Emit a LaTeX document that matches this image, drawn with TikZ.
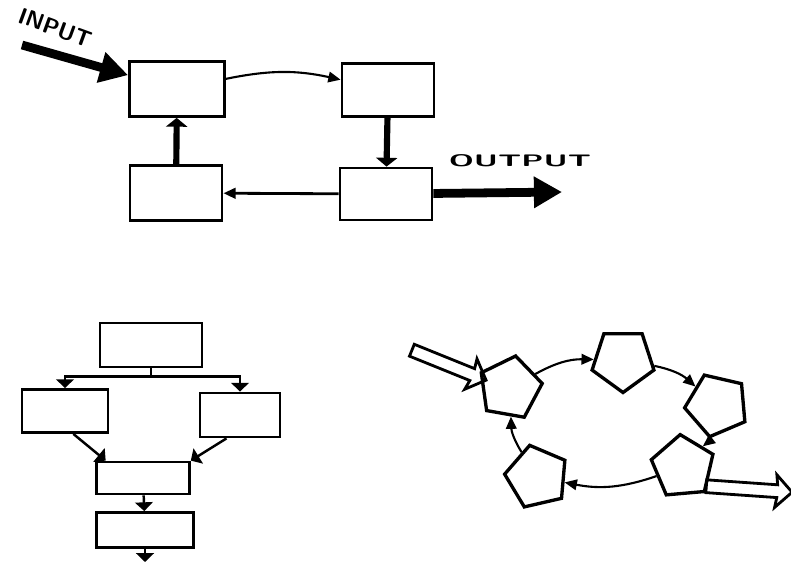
\documentclass[tikz,border=0pt]{standalone}
\usetikzlibrary{arrows.meta,shapes.geometric,shapes.arrows,positioning}
\begin{document}
\begin{tikzpicture}[x=0.02cm,y=-0.02cm]

    \tikzset{
      box/.style={draw, line width=1.6pt, inner sep=0pt},
      pent/.style={
        draw,
        line width=1.9pt,
        regular polygon,
        regular polygon sides=5,
        minimum size=1.3cm,
        inner sep=0pt,
      },
      thinlink/.style={line width=1.2pt, -{Triangle[length=7pt,width=6pt]}},
      fatlink/.style={line width=3.5pt, -{Triangle[length=5pt,width=12pt]}},
      flowlink/.style={line width=1.4pt, -{Triangle[length=5pt,width=10pt]}},
      bigarrow/.style={line width=5pt, -{Triangle[length=16pt,width=17pt]}},
      hollow/.style={
        draw,
        line width=1.6pt,
        single arrow,
        single arrow head extend=0.2cm,
        single arrow head indent=0.03cm,
        inner xsep=0pt,
        inner ysep=0.1cm,
      },
      tag/.style={font=\sffamily\bfseries},
    }
    \useasboundingbox (0,0) rectangle (791,565);

	% loop with input and output
	\node[box, minimum width=1.9cm, minimum height=1.1cm] (A) at (177,89) {};
	\node[box, minimum width=1.84cm, minimum height=1.06cm] (B) at (388,90) {};
	\node[box, minimum width=1.84cm, minimum height=1.04cm] (C) at (386,194) {};
	\node[box, minimum width=1.84cm, minimum height=1.1cm] (D) at (176,193) {};
	\coordinate (in) at (22,45);
	\coordinate (out) at (562,192);
	\draw[bigarrow] (in) -- (A);
	\draw[bigarrow] (C) -- (out);
	\draw[tag] (55,28) node[rotate=-20, scale=1.3] (inlabel) {INPUT};
	\draw[tag] (520,161) node[xscale=1.9, scale=0.95] (outlabel) {OUTPUT};
	\draw[thinlink] (A) to[bend left=12] (B);
	\draw[fatlink] (B) -- (C);
	\draw[thinlink, line width=1.6pt] (C) -- (D);
	\draw[fatlink] (D) -- (A);

	% flow chart
	\node[box, minimum width=2.04cm, minimum height=0.88cm] (T) at (151,345) {};
	\node[box, minimum width=1.72cm, minimum height=0.86cm] (L) at (65,411) {};
	\node[box, minimum width=1.6cm, minimum height=0.88cm] (R) at (240,415) {};
	\node[box, minimum width=1.86cm, minimum height=0.64cm] (M) at (143,478) {};
	\node[box, minimum width=1.94cm, minimum height=0.7cm] (E) at (145,530) {};
	\coordinate[below=0.16cm of T.south] (split);
	\coordinate (end) at (145,562);
	\draw[line width=1.4pt] (T.south) -- (split);
	\draw[flowlink] (split) -| (L.north);
	\draw[flowlink] (split) -| (R.north);
	\draw[flowlink] (L.290) -- (M.155);
	\draw[flowlink] (R.240) -- (M.20);
	\draw[flowlink] (M) -- (E);
	\draw[flowlink] (E) -- (end);

	% ring
	\node[pent, rotate=-10] (P1) at (510,388) {};
	\node[pent, rotate=180] (P2) at (623,360) {};
	\node[pent, rotate=95] (P3) at (717,405) {};
	\node[pent, rotate=5] (P4) at (683,467) {};
	\node[pent, rotate=85] (P5) at (537,477) {};
	\draw[thinlink] (P1) to[bend left=15] (P2);
	\draw[thinlink] (P2) to[bend left=15] (P3);
	\draw[thinlink] (P3) to[bend left=15] (P4);
	\draw[thinlink] (P4) to[bend left=15] (P5);
	\draw[thinlink] (P5) to[bend left=15] (P1);
	\node[hollow, rotate=-22, minimum height=1.6cm] (inarrow) at (446,364) {};
	\node[hollow, rotate=-4, minimum height=1.72cm] (outarrow) at (746,489) {};

\end{tikzpicture}
\end{document}
